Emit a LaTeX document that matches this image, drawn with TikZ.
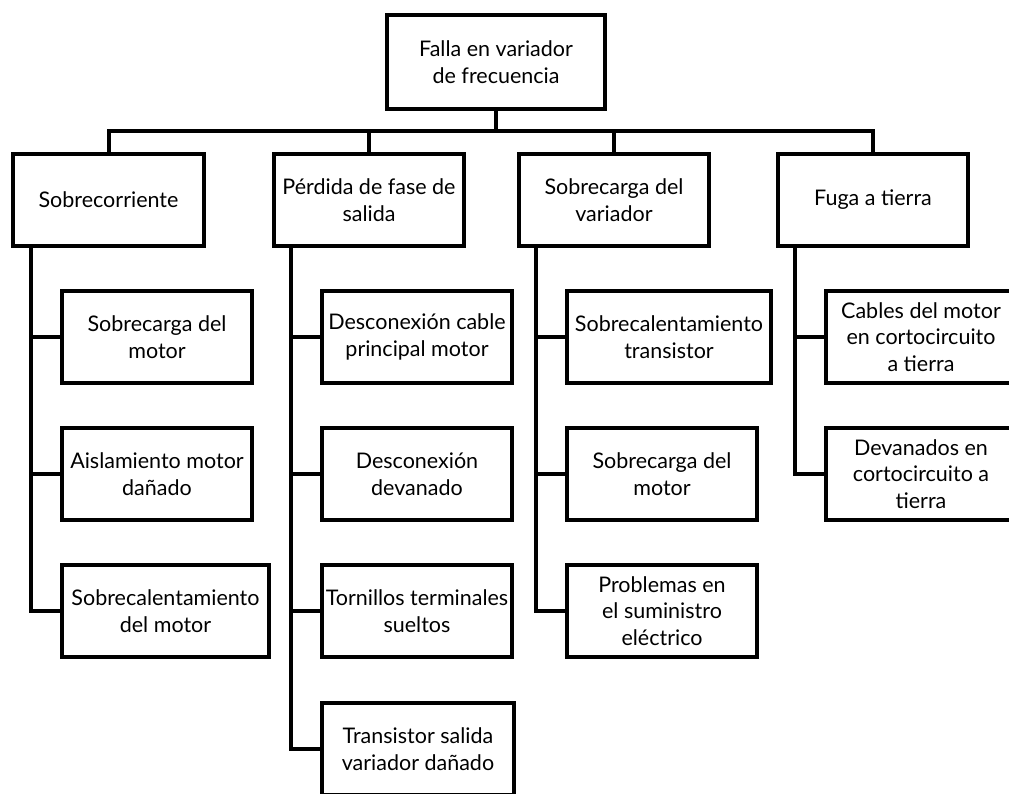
\documentclass[tikz,border=0pt]{standalone}
\usepackage{fontspec}
\setmainfont{Lato}
\begin{document}
\begin{tikzpicture}[x=1pt,y=-1pt,
  box/.style={draw=black,line width=4pt,rectangle,inner sep=1pt,align=center,
    minimum height=92pt,text=black,font=\fontsize{21.5}{26.5}\selectfont},
  link/.style={draw=black,line width=4pt}]
\useasboundingbox (0,0) rectangle (1009,794);
\clip (0,0) rectangle (1009,794);
\fill[white] (0,0) rectangle (1009,794);

% root
\node[box,minimum width=218pt,minimum height=94pt] (root) at (496,62) {Falla en variador\\de frecuencia};

% first level
\node[box,minimum width=191pt] (a) at (108.5,200) {Sobrecorriente};
\node[box,minimum width=190pt] (b) at (369,200) {Pérdida de fase de\\salida};
\node[box,minimum width=190pt] (c) at (614,200) {Sobrecarga del\\variador};
\node[box,minimum width=190pt] (d) at (873,200) {Fuga a tierra};

% causes under Sobrecorriente
\node[box,minimum width=190pt] (a1) at (157,337) {Sobrecarga del\\motor};
\node[box,minimum width=190pt] (a2) at (157,474) {Aislamiento motor\\dañado};
\node[box,minimum width=207pt] (a3) at (165.5,611) {Sobrecalentamiento\\del motor};

% causes under Pérdida de fase de salida
\node[box,minimum width=190pt] (b1) at (417,337) {Desconexión cable\\principal motor};
\node[box,minimum width=190pt] (b2) at (417,474) {Desconexión\\devanado};
\node[box,minimum width=190pt] (b3) at (417,611) {Tornillos terminales\\sueltos};
\node[box,minimum width=192pt] (b4) at (418,749) {Transistor salida\\variador dañado};

% causes under Sobrecarga del variador
\node[box,minimum width=204pt] (c1) at (669,337) {Sobrecalentamiento\\transistor};
\node[box,minimum width=190pt] (c2) at (662,474) {Sobrecarga del\\motor};
\node[box,minimum width=190pt] (c3) at (662,611) {Problemas en\\el suministro\\eléctrico};

% causes under Fuga a tierra
\node[box,minimum width=190pt] (d1) at (921,337) {Cables del motor\\en cortocircuito\\a tierra};
\node[box,minimum width=190pt] (d2) at (921,474) {Devanados en\\cortocircuito a\\tierra};

% bus between root and first level
\coordinate (bus) at (0,131);
\draw[link] (root.south) -- (root.south |- bus);
\draw[link] (a.north) -- (a.north |- bus) -- (d.north |- bus) -- (d.north);
\draw[link] (b.north) -- (b.north |- bus);
\draw[link] (c.north) -- (c.north |- bus);

% spines
\coordinate (sa) at (31,0);
\coordinate (sb) at (291,0);
\coordinate (sc) at (536,0);
\coordinate (sd) at (795,0);

\draw[link] (sa |- a.south) |- (a3.west);
\draw[link] (sa |- a1.west) -- (a1.west);
\draw[link] (sa |- a2.west) -- (a2.west);

\draw[link] (sb |- b.south) |- (b4.west);
\draw[link] (sb |- b1.west) -- (b1.west);
\draw[link] (sb |- b2.west) -- (b2.west);
\draw[link] (sb |- b3.west) -- (b3.west);

\draw[link] (sc |- c.south) |- (c3.west);
\draw[link] (sc |- c1.west) -- (c1.west);
\draw[link] (sc |- c2.west) -- (c2.west);

\draw[link] (sd |- d.south) |- (d2.west);
\draw[link] (sd |- d1.west) -- (d1.west);
\end{tikzpicture}
\end{document}
